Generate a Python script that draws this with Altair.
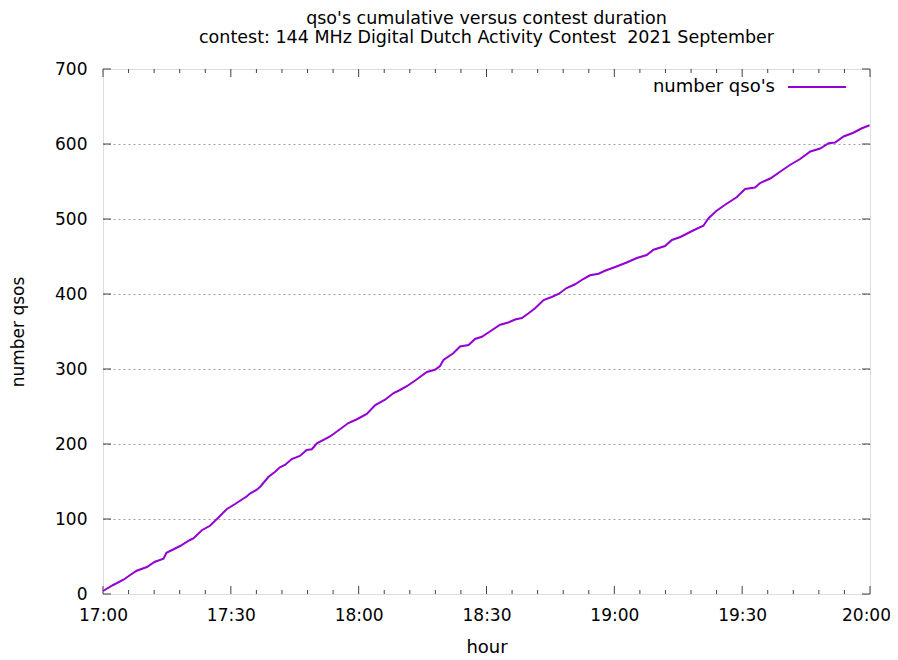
import altair as alt
import pandas as pd

# ---- data ----
minutes = [0.0, 2.4, 4.8, 6.3, 7.9, 10.3, 12.2, 14.2, 14.9, 18.1, 20.4, 21.2, 23.2, 25.1,
           27.1, 29.0, 31.0, 33.7, 34.5, 36.1, 36.9, 38.8, 40.4, 41.5, 42.7, 44.3, 46.2,
           47.8, 49.0, 50.2, 53.3, 55.2, 57.6, 59.6, 61.9, 63.9, 66.2, 68.2, 69.7, 71.3,
           73.6, 76.0, 77.9, 79.1, 79.9, 82.2, 83.8, 85.8, 87.3, 88.9, 90.8, 93.2, 95.1,
           96.7, 98.3, 99.8, 101.4, 103.4, 105.3, 106.9, 108.8, 110.8, 112.7, 114.3, 116.3,
           117.8, 120.2, 122.9, 125.3, 127.6, 129.2, 131.9, 133.5, 135.5, 138.6, 140.9,
           142.1, 144.0, 146.0, 148.7, 150.7, 153.0, 154.2, 156.6, 158.9, 161.2, 163.6,
           166.0, 168.3, 170.3, 171.8, 173.8, 176.1, 178.1, 179.9]
qsos = [4, 12, 19, 25, 31, 36, 43, 47, 55, 64, 72, 74, 85, 91,
        102, 113, 120, 130, 134, 139, 143, 156, 163, 169, 172, 180, 184,
        192, 193, 201, 210, 218, 228, 233, 240, 252, 259, 268, 272, 277,
        286, 296, 299, 304, 312, 321, 330, 332, 340, 343, 350, 359, 362,
        366, 368, 374, 381, 392, 396, 400, 408, 413, 420, 425, 427,
        431, 436, 442, 448, 452, 459, 464, 472, 476, 485, 491,
        501, 511, 519, 529, 540, 542, 548, 554, 563, 572, 580,
        590, 594, 601, 602, 610, 615, 621, 625]

x_tick_labels = ["17:00", "17:30", "18:00", "18:30", "19:00", "19:30", "20:00"]
x_tick_values = [0, 30, 60, 90, 120, 150, 180]
x_minor_values = [m for m in range(0, 181, 6) if m % 30 != 0]
y_tick_values = [0, 100, 200, 300, 400, 500, 600, 700]

series_name = "number qso's"
title_lines = ["qso's cumulative versus contest duration",
               "contest: 144 MHz Digital Dutch Activity Contest \u00a02021 September"]

FONT = "DejaVu Sans"
W, H = 767, 525
PURPLE = "#9400D3"
BORDER = "#404040"
TXT = 18
TICK = 17

df = pd.DataFrame({"minute": minutes, "qsos": qsos})
label_array = "[" + ",".join("'%s'" % s for s in x_tick_labels) + "]"

x_axis = alt.Axis(values=x_tick_values, labelExpr=label_array + "[round(datum.value/30)]",
                  ticks=False, tickSize=0, domain=False, grid=False, labelPadding=13,
                  labelFlush=False, labelOverlap=False,
                  labelOffset=alt.condition("datum.value == 180", alt.value(-4), alt.value(0)),
                  labelFontSize=TICK, labelFont=FONT, labelColor="black",
                  title="hour", titleFontSize=TXT, titleFont=FONT, titleFontWeight="normal",
                  titleColor="black", titlePadding=15)
y_axis = alt.Axis(values=y_tick_values, ticks=False, tickSize=0, domain=False, grid=True,
                  gridDash=[2, 3], gridColor="#a0a0a0", gridWidth=1,
                  gridOpacity=alt.condition("datum.value == 0 || datum.value == 700",
                                            alt.value(0), alt.value(1)),
                  labelFlush=False, labelOverlap=False,
                  labelPadding=16, labelFontSize=TICK, labelFont=FONT, labelColor="black",
                  title="number qsos", titleFontSize=17, titleFont=FONT,
                  titleFontWeight="normal", titleColor="black", titlePadding=27)
x_scale = alt.Scale(domain=[0, 180], nice=False, zero=False)
y_scale = alt.Scale(domain=[0, 700], nice=False)

X = alt.X("minute:Q", scale=x_scale, axis=x_axis)
Y = alt.Y("qsos:Q", scale=y_scale, axis=y_axis)

line = alt.Chart(df).mark_line(color=PURPLE, strokeWidth=2).encode(x=X, y=Y)

xmaj = pd.DataFrame({"minute": x_tick_values})
xmin = pd.DataFrame({"minute": x_minor_values})
ymaj = pd.DataFrame({"qsos": y_tick_values})

tick_style = dict(color=BORDER, strokeWidth=1)
xt_bottom = alt.Chart(xmaj).mark_rule(**tick_style).encode(x=X, y=alt.value(H), y2=alt.value(H - 8))
xt_top = alt.Chart(xmaj).mark_rule(**tick_style).encode(x=X, y=alt.value(0), y2=alt.value(8))
xm_bottom = alt.Chart(xmin).mark_rule(**tick_style).encode(x=X, y=alt.value(H), y2=alt.value(H - 4))
xm_top = alt.Chart(xmin).mark_rule(**tick_style).encode(x=X, y=alt.value(0), y2=alt.value(4))
yt_left = alt.Chart(ymaj).mark_rule(**tick_style).encode(y=Y, x=alt.value(0), x2=alt.value(8))
yt_right = alt.Chart(ymaj).mark_rule(**tick_style).encode(y=Y, x=alt.value(W - 8), x2=alt.value(W))

leg_df = pd.DataFrame({"label": [series_name]})
leg_text = alt.Chart(leg_df).mark_text(align="right", baseline="middle", font=FONT,
                                       fontSize=TXT, color="black").encode(
    text="label:N", x=alt.value(672), y=alt.value(18))
leg_line = alt.Chart(leg_df).mark_rule(color=PURPLE, strokeWidth=2).encode(
    x=alt.value(685), x2=alt.value(743), y=alt.value(18))

chart = alt.layer(xt_bottom, xt_top, xm_bottom, xm_top, yt_left, yt_right, line,
                  leg_text, leg_line).properties(
    width=W, height=H,
    title=alt.TitleParams(text=title_lines, font=FONT, fontSize=17.5, fontWeight="normal",
                          color="black", anchor="middle", offset=14, lineHeight=19),
    autosize=alt.AutoSizeParams(type="none"),
    padding={"left": 95, "top": 61, "right": 20, "bottom": 62},
).configure_view(stroke=BORDER, strokeWidth=1).configure(background="white")

chart.save("out.html", embed_options={"renderer": "svg", "actions": False})
